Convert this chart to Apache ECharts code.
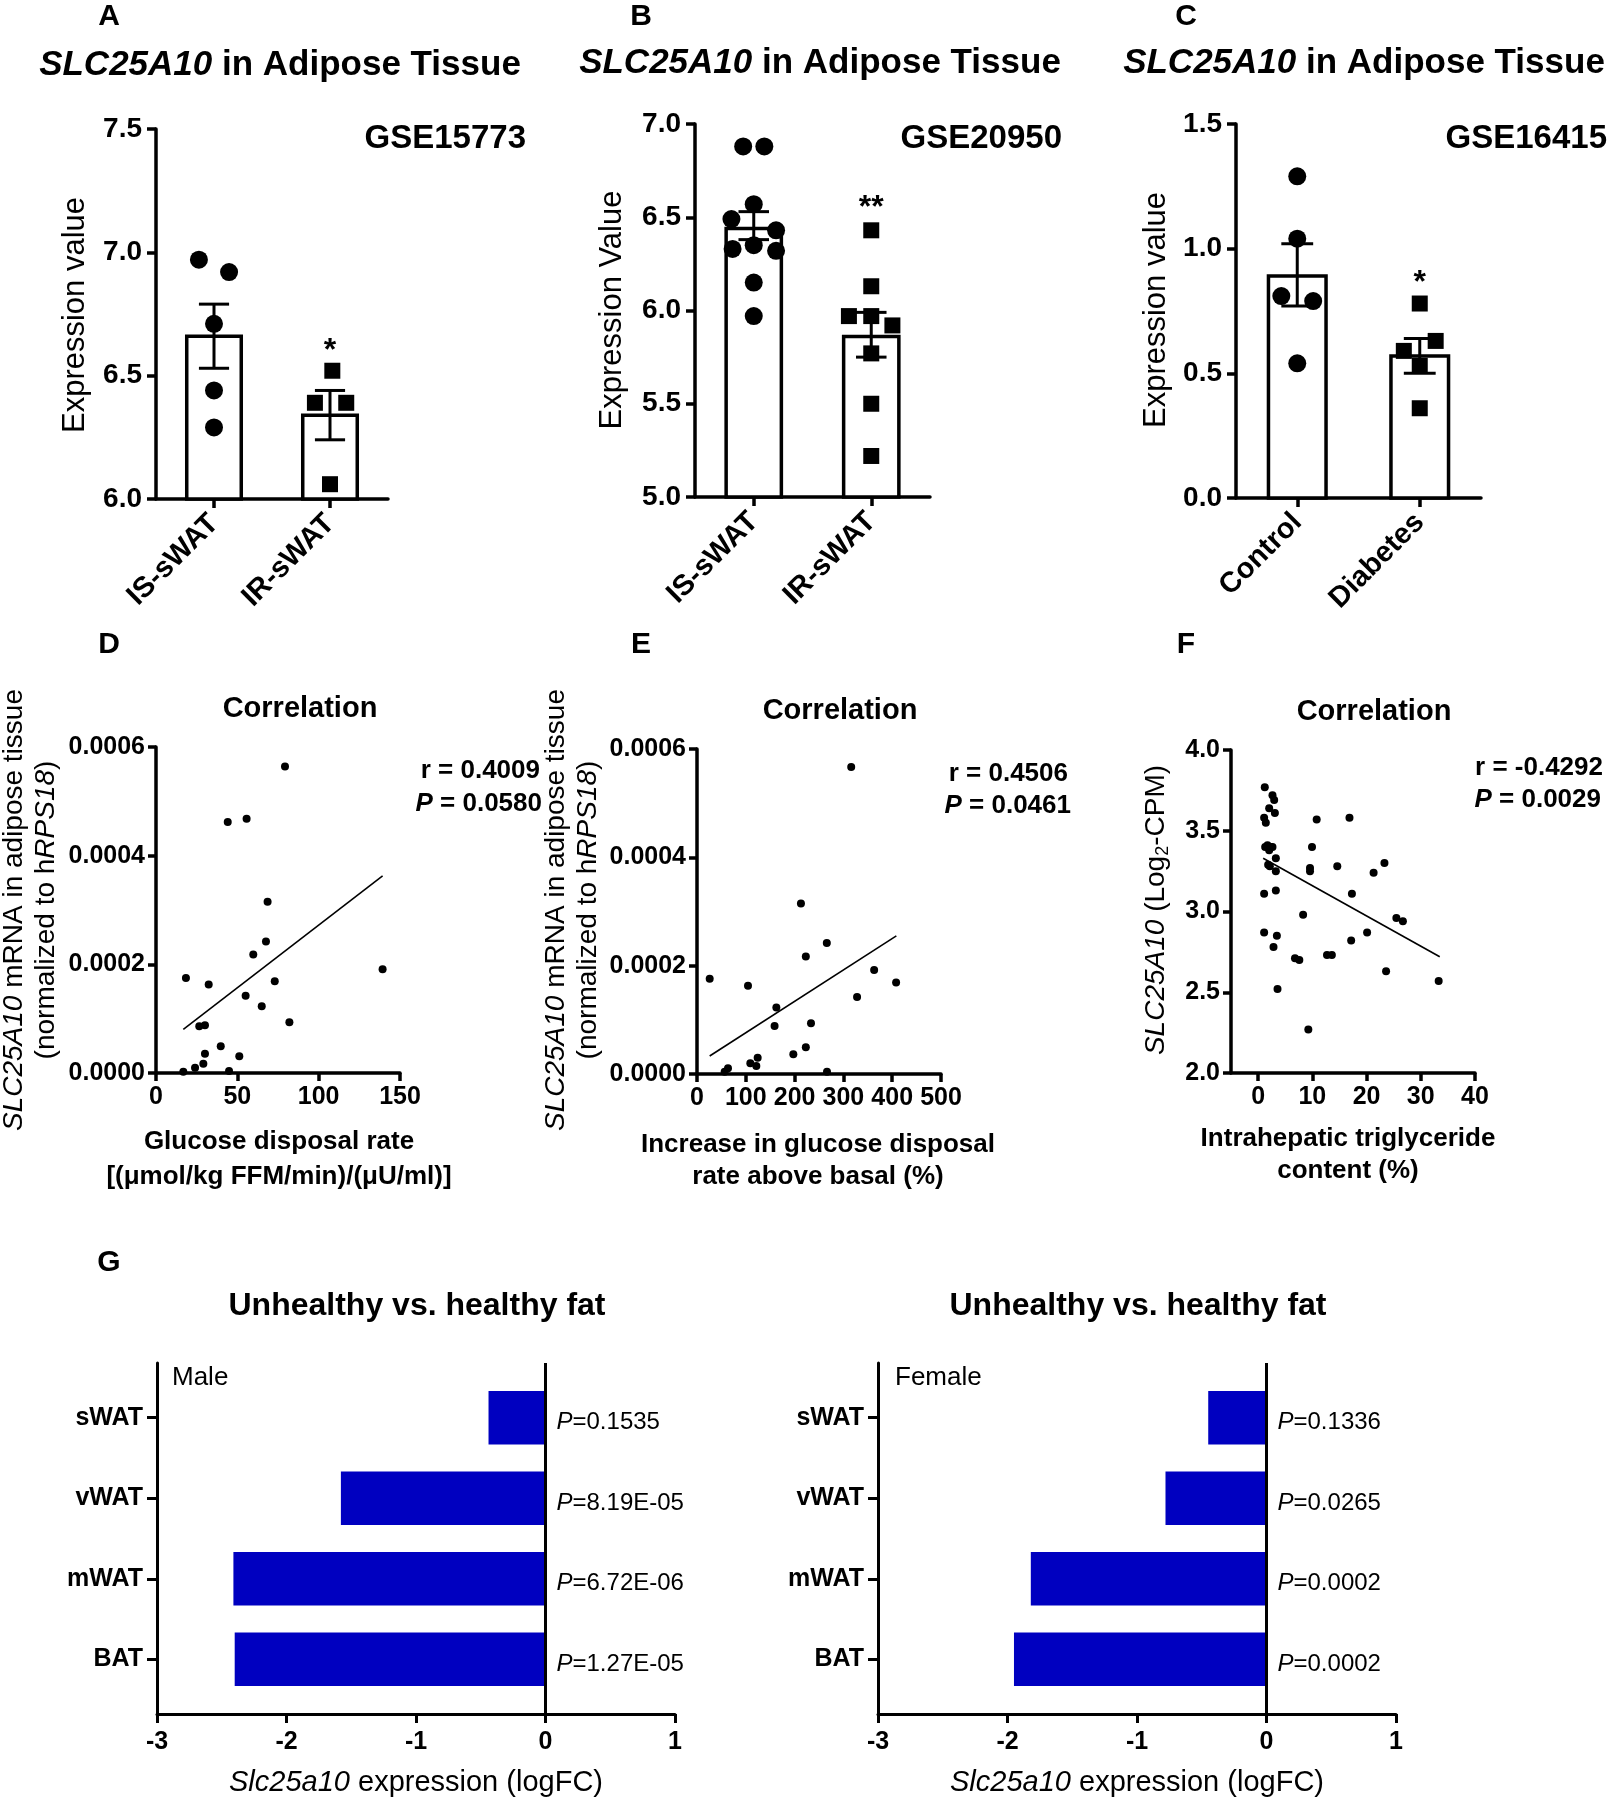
<!DOCTYPE html>
<html><head><meta charset="utf-8">
<script src="https://cdn.jsdelivr.net/npm/echarts@6/dist/echarts.min.js"></script>
<style>html,body{margin:0;padding:0;background:#fff}#c{width:1613px;height:1800px}</style>
</head><body><div id="c"></div>
<script>
// ===================== DATA =====================
// Panel A (GSE15773)
const catsA = ['IS-sWAT', 'IR-sWAT'];
const meanA = [6.66, 6.34];
const errLoA = [6.53, 6.24];
const errHiA = [6.79, 6.44];
const dotsA1 = [6.97, 6.92, 6.71, 6.44, 6.29];
const jitA1 = [-0.13, 0.13, 0, 0, 0];
const dotsA2 = [6.52, 6.39, 6.39, 6.06];
const jitA2 = [0.02, -0.13, 0.14, 0];
const starA = '*'; const starYA = 6.60;
const yMinA = 6.0, yMaxA = 7.5, yStepA = 0.5;

// Panel B (GSE20950)
const catsB = ['IS-sWAT', 'IR-sWAT'];
const meanB = [6.44, 5.86];
const errLoB = [6.38, 5.75];
const errHiB = [6.53, 5.99];
const dotsB1 = [6.88, 6.88, 6.57, 6.49, 6.43, 6.33, 6.35, 6.32, 6.15, 5.97];
const jitB1 = [-0.09, 0.09, 0, -0.19, 0.19, -0.18, 0, 0.19, 0, 0];
const dotsB2 = [6.43, 6.13, 5.97, 5.97, 5.92, 5.77, 5.50, 5.22];
const jitB2 = [0, 0, -0.19, 0, 0.18, 0, 0, 0];
const starB = '**'; const starYB = 6.55;
const yMinB = 5.0, yMaxB = 7.0, yStepB = 0.5;

// Panel C (GSE16415)
const catsC = ['Control', 'Diabetes'];
const meanC = [0.89, 0.57];
const errLoC = [0.77, 0.50];
const errHiC = [1.02, 0.64];
const dotsC1 = [1.29, 1.04, 0.81, 0.79, 0.54];
const jitC1 = [0, 0, -0.13, 0.13, 0];
const dotsC2 = [0.78, 0.63, 0.59, 0.53, 0.36];
const jitC2 = [0, 0.13, -0.13, 0, 0];
const starC = '*'; const starYC = 0.86;
const yMinC = 0.0, yMaxC = 1.5, yStepC = 0.5;

// Panel D
const dX = [79.3, 44.1, 55.7, 68.6, 67.6, 59.8, 18.4, 32.4, 73.0, 139.3, 55.1, 65.0, 82.0, 26.6, 30.1, 39.8, 30.1, 51.2, 24.0, 29.1, 16.8, 44.9];
const dY = [0.000564, 0.000462, 0.000468, 0.000315, 0.000242, 0.000218, 0.000175, 0.000163, 0.000169, 0.000191, 0.000142, 0.000123, 0.0000933, 0.0000859, 0.0000877, 0.0000491, 0.0000356, 0.0000307, 0.0000098, 0.0000172, 0.0000025, 0.0000037];
const fitXD = [16.8, 139.3];
const fitYD = [0.0000804, 0.000363];

// Panel E
const eX = [316, 213, 266, 223, 363, 408, 26, 104.5, 328, 162.6, 233.6, 159, 197.4, 223, 124.3, 109.3, 121.6, 63.5, 56.7, 266.4];
const eY = [0.000567, 0.000315, 0.000242, 0.000217, 0.000192, 0.000169, 0.000176, 0.000163, 0.000142, 0.000123, 0.0000936, 0.0000887, 0.0000363, 0.0000493, 0.0000302, 0.0000197, 0.0000148, 0.0000105, 0.0000043, 0.0000043];
const fitXE = [26, 408.5];
const fitYE = [0.0000333, 0.000255];

// Panel F
const fX = [1.23, 2.65, 2.96, 2.04, 3.09, 1.11, 1.42, 1.73, 2.35, 1.3, 2.65, 2.04, 3.27, 1.85, 2.16, 3.27, 1.11, 3.27, 1.11, 3.46, 2.84, 3.58, 6.8, 7.6, 8.3, 9.26, 9.57, 9.57, 9.94, 10.8, 12.7, 13.6, 14.6, 16.85, 17.3, 17.16, 20.1, 21.3, 23.3, 23.6, 25.5, 26.7, 33.3];
const fY = [3.77, 3.72, 3.69, 3.64, 3.61, 3.58, 3.55, 3.41, 3.40, 3.40, 3.40, 3.38, 3.33, 3.29, 3.28, 3.25, 3.11, 3.13, 2.87, 2.85, 2.78, 2.52, 2.71, 2.70, 2.98, 2.27, 3.27, 3.25, 3.40, 3.57, 2.73, 2.73, 3.28, 3.58, 3.11, 2.82, 2.87, 3.24, 3.30, 2.63, 2.96, 2.94, 2.57];
const fitXF = [0.93, 33.5];
const fitYF = [3.33, 2.72];
const fTicksX = [0, 10, 20, 30, 40];

// Panel G
const tissuesG = ['sWAT', 'vWAT', 'mWAT', 'BAT'];
const maleFC = [-0.44, -1.58, -2.41, -2.40];
const maleP = ['0.1535', '8.19E-05', '6.72E-06', '1.27E-05'];
const femaleFC = [-0.45, -0.78, -1.82, -1.95];
const femaleP = ['0.1336', '0.0265', '0.0002', '0.0002'];

// ===================== STYLE =====================
const FONT = "'Liberation Sans', Arial, Helvetica, sans-serif";
const BLUE = '#0000c0';
const BAR_W = 0.47, CAP_W = 0.26, HBAR_H = 0.665;

function richSet(size, weight) {
  return {
    i: {fontStyle: 'italic', fontSize: size, fontWeight: weight, fontFamily: FONT, fill: '#000', color: '#000'},
    n: {fontSize: size, fontWeight: weight, fontFamily: FONT, fill: '#000', color: '#000'},
    s: {fontSize: Math.round(size * 0.65), fontWeight: weight, fontFamily: FONT, padding: [Math.round(size * 0.55), 0, 0, 0], fill: '#000', color: '#000'}
  };
}
function T(x, y, text, size, weight, align, rotDeg) {
  return {
    type: 'text', x: x, y: y, rotation: (rotDeg || 0) * Math.PI / 180, silent: true, z: 100,
    style: {
      text: text, fill: '#000', fontSize: size, fontWeight: weight || 'normal', fontFamily: FONT,
      align: align || 'center', verticalAlign: 'middle', textAlign: align || 'center', textVerticalAlign: 'middle',
      rich: richSet(size, weight || 'normal')
    }
  };
}

function lineStyle(w) { return {color: '#000', width: w}; }

const grids = [
  {left: 156, top: 129, width: 232, height: 370},
  {left: 695, top: 124, width: 235, height: 373},
  {left: 1236, top: 124, width: 245, height: 374},
  {left: 156, top: 747, width: 244, height: 326},
  {left: 697, top: 749, width: 244, height: 325},
  {left: 1231, top: 750, width: 244, height: 323},
  {left: 157, top: 1363, width: 518, height: 351},
  {left: 878, top: 1363, width: 518, height: 351}
].map(g => Object.assign({outerBoundsMode: 'none', containLabel: false}, g));

const xAxes = [], yAxes = [], series = [];

function barPanel(gi, cfg) {
  xAxes.push({
    gridIndex: gi, type: 'value', min: 0, max: 2,
    axisLine: {show: true, onZero: false, lineStyle: lineStyle(3.5)},
    axisTick: {show: true, length: 9, lineStyle: lineStyle(3.5), customValues: cfg.cats.map((c, i) => i + 0.5)},
    axisLabel: {show: true, customValues: cfg.cats.map((c, i) => i + 0.5), formatter: v => cfg.cats[Math.round(v - 0.5)],
      rotate: 45, fontSize: 29, fontWeight: 'bold', fontFamily: FONT, color: '#000', margin: 20},
    splitLine: {show: false}
  });
  yAxes.push({
    gridIndex: gi, type: 'value', min: cfg.yMin, max: cfg.yMax, interval: cfg.yStep,
    axisLine: {show: true, onZero: false, lineStyle: lineStyle(3.5)},
    axisTick: {show: true, length: 9, lineStyle: lineStyle(3.5)},
    axisLabel: {show: true, formatter: v => v.toFixed(1), fontSize: 28, fontWeight: 'bold', fontFamily: FONT, color: '#000', margin: 14},
    splitLine: {show: false}
  });
  series.push({
    type: 'custom', xAxisIndex: gi, yAxisIndex: gi, z: 2, silent: true,
    encode: {x: 0, y: [1, 2, 3]},
    data: cfg.cats.map((c, i) => [i + 0.5, cfg.mean[i], cfg.lo[i], cfg.hi[i]]),
    renderItem: function (params, api) {
      const x = api.value(0), m = api.value(1), lo = api.value(2), hi = api.value(3);
      const pBase = api.coord([x, cfg.yMin]);
      const pTop = api.coord([x, m]);
      const hw = api.size([BAR_W, 0])[0] / 2;
      const cw = api.size([CAP_W, 0])[0] / 2;
      const pLo = api.coord([x, lo]), pHi = api.coord([x, hi]);
      return {type: 'group', children: [
        {type: 'rect', shape: {x: pBase[0] - hw, y: pTop[1], width: 2 * hw, height: pBase[1] - pTop[1]}, style: {fill: '#fff', stroke: '#000', lineWidth: 3.5}},
        {type: 'line', shape: {x1: pLo[0], y1: pLo[1], x2: pHi[0], y2: pHi[1]}, style: {stroke: '#000', lineWidth: 3}},
        {type: 'line', shape: {x1: pLo[0] - cw, y1: pLo[1], x2: pLo[0] + cw, y2: pLo[1]}, style: {stroke: '#000', lineWidth: 3}},
        {type: 'line', shape: {x1: pHi[0] - cw, y1: pHi[1], x2: pHi[0] + cw, y2: pHi[1]}, style: {stroke: '#000', lineWidth: 3}}
      ]};
    }
  });
  series.push({
    type: 'scatter', xAxisIndex: gi, yAxisIndex: gi, z: 3, silent: true, symbol: 'circle', symbolSize: 18,
    itemStyle: {color: '#000', opacity: 1},
    data: cfg.dots1.map((v, i) => [0.5 + cfg.jit1[i], v])
  });
  series.push({
    type: 'scatter', xAxisIndex: gi, yAxisIndex: gi, z: 3, silent: true, symbol: 'rect', symbolSize: 16,
    itemStyle: {color: '#000', opacity: 1},
    data: cfg.dots2.map((v, i) => [1.5 + cfg.jit2[i], v])
  });
  series.push({
    type: 'scatter', xAxisIndex: gi, yAxisIndex: gi, z: 4, silent: true, symbolSize: 0,
    itemStyle: {color: '#000', opacity: 1},
    data: [[1.5, cfg.starY]],
    label: {show: true, position: 'inside', formatter: cfg.star, fontSize: 32, fontWeight: 'bold', fontFamily: FONT, color: '#000', opacity: 1}
  });
}

function scatterPanel(gi, cfg) {
  xAxes.push({
    gridIndex: gi, type: 'value', min: cfg.xMin, max: cfg.xMax, interval: cfg.xStep,
    axisLine: {show: true, onZero: false, lineStyle: lineStyle(3.5)},
    axisTick: {show: true, length: 8, lineStyle: lineStyle(3.5), customValues: cfg.xTicks},
    axisLabel: {show: true, customValues: cfg.xTicks, fontSize: 25, fontWeight: 'bold', fontFamily: FONT, color: '#000', margin: 12},
    splitLine: {show: false}
  });
  yAxes.push({
    gridIndex: gi, type: 'value', min: cfg.yMin, max: cfg.yMax, interval: cfg.yStep,
    axisLine: {show: true, onZero: false, lineStyle: lineStyle(3.5)},
    axisTick: {show: true, length: 8, lineStyle: lineStyle(3.5)},
    axisLabel: {show: true, formatter: v => v.toFixed(cfg.yDec), fontSize: 25, fontWeight: 'bold', fontFamily: FONT, color: '#000', margin: 11},
    splitLine: {show: false}
  });
  series.push({
    type: 'scatter', xAxisIndex: gi, yAxisIndex: gi, z: 3, silent: true, symbol: 'circle', symbolSize: 8,
    itemStyle: {color: '#000', opacity: 1},
    data: cfg.xs.map((x, i) => [x, cfg.ys[i]])
  });
  series.push({
    type: 'line', xAxisIndex: gi, yAxisIndex: gi, z: 2, silent: true, symbol: 'none',
    lineStyle: {color: '#000', width: 1.6},
    data: cfg.fx.map((x, i) => [x, cfg.fy[i]])
  });
}

function hbarPanel(gi, vals, pvals) {
  const pos = tissuesG.map((t, i) => i + 1);
  xAxes.push({
    gridIndex: gi, type: 'value', min: -3, max: 1, interval: 1,
    axisLine: {show: true, onZero: false, lineStyle: lineStyle(3)},
    axisTick: {show: true, length: 9, lineStyle: lineStyle(3)},
    axisLabel: {show: true, fontSize: 25, fontWeight: 'bold', fontFamily: FONT, color: '#000', margin: 16},
    splitLine: {show: false}
  });
  yAxes.push({
    gridIndex: gi, type: 'value', inverse: true, min: 0.32, max: 4.68,
    axisLine: {show: true, onZero: false, lineStyle: lineStyle(3)},
    axisTick: {show: true, length: 10, lineStyle: lineStyle(3), customValues: pos},
    axisLabel: {show: true, customValues: pos, formatter: v => tissuesG[Math.round(v) - 1],
      fontSize: 25, fontWeight: 'bold', fontFamily: FONT, color: '#000', margin: 14},
    splitLine: {show: false}
  });
  series.push({
    type: 'custom', xAxisIndex: gi, yAxisIndex: gi, z: 2, silent: true,
    encode: {x: 0, y: 1},
    data: vals.map((v, i) => [v, pos[i]]),
    renderItem: function (params, api) {
      const v = api.value(0), p = api.value(1);
      const p0 = api.coord([0, p]), p1 = api.coord([v, p]);
      const h = Math.abs(api.size([0, HBAR_H])[1]);
      return {type: 'rect', shape: {x: Math.min(p0[0], p1[0]), y: p0[1] - h / 2, width: Math.abs(p1[0] - p0[0]), height: h}, style: {fill: BLUE}};
    }
  });
  series.push({
    type: 'scatter', xAxisIndex: gi, yAxisIndex: gi, z: 4, silent: true, symbolSize: 0,
    itemStyle: {color: '#000', opacity: 1},
    data: pos.map(p => [0, p]),
    label: {show: true, position: 'right', distance: 11, offset: [0, 5], opacity: 1,
      formatter: params => '{i|P}{n|=' + pvals[params.dataIndex] + '}',
      fontSize: 24, fontFamily: FONT, color: '#000', textBorderWidth: 0,
      rich: {i: {fontStyle: 'italic', fontSize: 24, fontFamily: FONT, color: '#000', opacity: 1},
             n: {fontSize: 24, fontFamily: FONT, color: '#000', opacity: 1}}},
    markLine: {silent: true, symbol: ['none', 'none'], label: {show: false}, animation: false,
      lineStyle: {color: '#000', width: 3, type: 'solid', opacity: 1}, emphasis: {disabled: true},
      data: [{xAxis: 0}]}
  });
}

barPanel(0, {cats: catsA, mean: meanA, lo: errLoA, hi: errHiA, dots1: dotsA1, jit1: jitA1, dots2: dotsA2, jit2: jitA2, star: starA, starY: starYA, yMin: yMinA, yMax: yMaxA, yStep: yStepA});
barPanel(1, {cats: catsB, mean: meanB, lo: errLoB, hi: errHiB, dots1: dotsB1, jit1: jitB1, dots2: dotsB2, jit2: jitB2, star: starB, starY: starYB, yMin: yMinB, yMax: yMaxB, yStep: yStepB});
barPanel(2, {cats: catsC, mean: meanC, lo: errLoC, hi: errHiC, dots1: dotsC1, jit1: jitC1, dots2: dotsC2, jit2: jitC2, star: starC, starY: starYC, yMin: yMinC, yMax: yMaxC, yStep: yStepC});
scatterPanel(3, {xs: dX, ys: dY, fx: fitXD, fy: fitYD, xMin: 0, xMax: 150, xStep: 50, xTicks: [0, 50, 100, 150], yMin: 0, yMax: 0.0006, yStep: 0.0002, yDec: 4});
scatterPanel(4, {xs: eX, ys: eY, fx: fitXE, fy: fitYE, xMin: 0, xMax: 500, xStep: 100, xTicks: [0, 100, 200, 300, 400, 500], yMin: 0, yMax: 0.0006, yStep: 0.0002, yDec: 4});
scatterPanel(5, {xs: fX, ys: fY, fx: fitXF, fy: fitYF, xMin: -5, xMax: 40, xStep: undefined, xTicks: fTicksX, yMin: 2, yMax: 4, yStep: 0.5, yDec: 1});
hbarPanel(6, maleFC, maleP);
hbarPanel(7, femaleFC, femaleP);

const texts = [
  T(109, 17, 'A', 30, 'bold'), T(641, 17, 'B', 30, 'bold'), T(1186, 17, 'C', 30, 'bold'),
  T(109, 645, 'D', 30, 'bold'), T(641, 645, 'E', 30, 'bold'), T(1186, 645, 'F', 30, 'bold'),
  T(109, 1263, 'G', 30, 'bold'),
  T(280, 65, '{i|SLC25A10} in Adipose Tissue', 35, 'bold'),
  T(820, 63, '{i|SLC25A10} in Adipose Tissue', 35, 'bold'),
  T(1364, 63, '{i|SLC25A10} in Adipose Tissue', 35, 'bold'),
  T(526, 139, 'GSE15773', 33, 'bold', 'right'),
  T(1062, 139, 'GSE20950', 33, 'bold', 'right'),
  T(1607, 139, 'GSE16415', 33, 'bold', 'right'),
  T(75, 315, 'Expression value', 31, 'normal', 'center', 90),
  T(612, 310, 'Expression Value', 31, 'normal', 'center', 90),
  T(1156, 310, 'Expression value', 31, 'normal', 'center', 90),
  T(300, 709, 'Correlation', 29, 'bold'),
  T(840, 711, 'Correlation', 29, 'bold'),
  T(1374, 712, 'Correlation', 29, 'bold'),
  T(540, 771, 'r = 0.4009', 26, 'bold', 'right'),
  T(542, 804, '{i|P} = 0.0580', 26, 'bold', 'right'),
  T(1068, 774, 'r = 0.4506', 26, 'bold', 'right'),
  T(1071, 806, '{i|P} = 0.0461', 26, 'bold', 'right'),
  T(1603, 768, 'r = -0.4292', 26, 'bold', 'right'),
  T(1601, 800, '{i|P} = 0.0029', 26, 'bold', 'right'),
  T(14, 910, '{i|SLC25A10} mRNA in adipose tissue', 28, 'normal', 'center', 90),
  T(46, 910, '(normalized to h{i|RPS18})', 28, 'normal', 'center', 90),
  T(556, 910, '{i|SLC25A10} mRNA in adipose tissue', 28, 'normal', 'center', 90),
  T(588, 910, '(normalized to h{i|RPS18})', 28, 'normal', 'center', 90),
  T(1156, 910, '{i|SLC25A10} (Log{s|2}-CPM)', 28, 'normal', 'center', 90),
  T(279, 1142, 'Glucose disposal rate', 26, 'bold'),
  T(279, 1177, '[(\u03bcmol/kg FFM/min)/(\u03bcU/ml)]', 26, 'bold'),
  T(818, 1145, 'Increase in glucose disposal', 26, 'bold'),
  T(818, 1177, 'rate above basal (%)', 26, 'bold'),
  T(1348, 1139, 'Intrahepatic triglyceride', 26, 'bold'),
  T(1348, 1171, 'content (%)', 26, 'bold'),
  T(417, 1306, 'Unhealthy vs. healthy fat', 32, 'bold'),
  T(1138, 1306, 'Unhealthy vs. healthy fat', 32, 'bold'),
  T(172, 1378, 'Male', 26, 'normal', 'left'),
  T(895, 1378, 'Female', 26, 'normal', 'left'),
  T(416, 1783, '{i|Slc25a10} expression (logFC)', 29, 'normal'),
  T(1137, 1783, '{i|Slc25a10} expression (logFC)', 29, 'normal')
];

const chart = echarts.init(document.getElementById('c'), null, {renderer: 'canvas', width: 1613, height: 1800});
chart.setOption({
  animation: false,
  backgroundColor: '#fff',
  textStyle: {fontFamily: FONT},
  tooltip: {show: false},
  grid: grids,
  xAxis: xAxes,
  yAxis: yAxes,
  series: series,
  graphic: {elements: texts}
});
</script>
</body></html>
